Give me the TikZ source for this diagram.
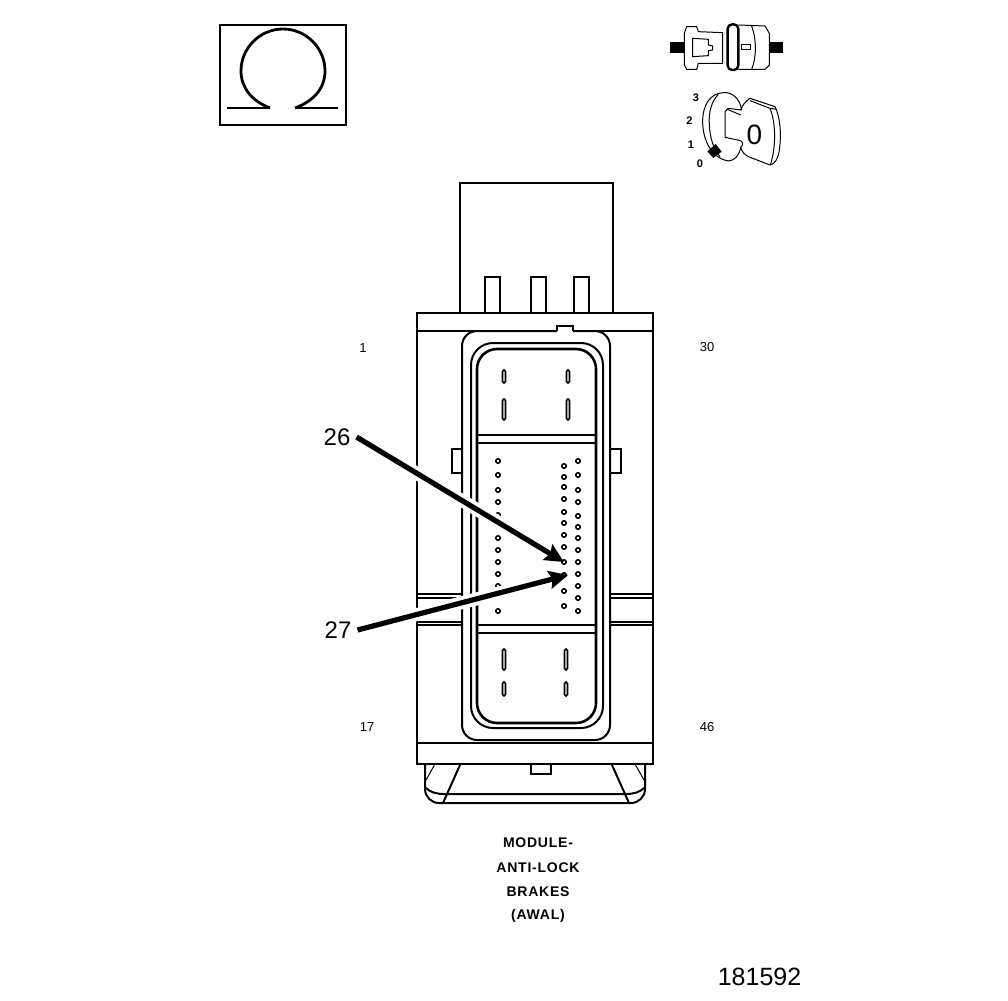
\documentclass[tikz,border=0pt]{standalone}
\usepackage{fontspec}
\setmainfont{Liberation Sans}
\usetikzlibrary{calc,arrows.meta}
\tikzset{
  heavy/.style={line width=2.6pt},
  medium/.style={line width=2pt},
  thin line/.style={line width=1pt},
  slot/.style={draw, line width=1.6pt, rounded corners=1.5pt},
  pin/.style={draw, circle, line width=1.5pt, inner sep=0pt, minimum size=4.5pt},
  pinlabel/.style={font=\fontsize{13}{13}\selectfont},
  callout/.style={font=\fontsize{24}{24}\selectfont, inner sep=6pt},
  leader/.style={line width=5.2pt, -{Stealth[length=19pt,width=18pt,inset=3pt]}},
  casing/.style={white, line width=13pt, shorten >=14pt},
  caption/.style={font=\bfseries\fontsize{14}{14}\selectfont\addfontfeature{LetterSpace=5.5}},
  keydigit/.style={font=\bfseries\fontsize{11}{11}\selectfont, inner sep=0pt}
}
\begin{document}
\begin{tikzpicture}[x=1pt,y=-1pt]
\useasboundingbox (0,0) rectangle (1008,1000);
%% omega symbol
\draw[medium] (220,25) rectangle (345.5,125.5);
\draw[line width=2.8pt] (270,108) .. controls (252,101) and (241,88) .. (241,71)
  .. controls (241,48) and (260,29) .. (283,29)
  .. controls (306,29) and (325,48) .. (325,71)
  .. controls (325,88) and (314,101) .. (295,108);
\draw[medium] (227,108) -- (270,108);
\draw[medium] (295,108) -- (338,108);
%% connector and key icons
\begin{scope}[shift={(650,10)},scale=1/3]
% connector halves
\fill (60,97) rectangle (103,128);
\fill (358,97) rectangle (398,128);
\draw[thin line] (103,70) -- (110,50) -- (140,50) -- (145,65) -- (218,68)
  -- (218,160) -- (145,160) -- (140,178) -- (110,178) -- (103,165) -- cycle;
\draw[thin line] (128,85) -- (175,88) -- (175,105) -- (188,108) -- (188,120)
  -- (175,122) -- (175,137) -- (128,140) -- cycle;
\draw[line width=2.4pt, rounded corners=4.5pt] (233,43) rectangle (265,180);
\draw[thin line] (265,45) -- (345,48) -- (358,70) -- (358,165) -- (345,178) -- (265,178);
\draw[thin line] (305,48) .. controls (320,90) and (320,140) .. (305,178);
\draw[thin line] (275,105) rectangle (300,118);
% key barrel
\draw[thin line] (275,300) .. controls (270,265) and (245,245) .. (220,248)
  .. controls (180,250) and (158,285) .. (158,335)
  .. controls (158,390) and (185,445) .. (235,453)
  .. controls (255,452) and (268,435) .. (272,412);
\draw[thin line] (205,253) .. controls (185,275) and (175,305) .. (178,345)
  .. controls (180,385) and (190,415) .. (210,440);
\draw[thin line] (275,300) -- (235,295) -- (225,305) -- (225,382) -- (272,392);
\draw[thin line] (230,297) -- (272,315);
% key head
\draw[thin line] (272,300) .. controls (278,285) and (285,275) .. (300,265)
  -- (375,290) .. controls (390,320) and (395,370) .. (388,420)
  .. controls (385,445) and (375,462) .. (360,465)
  -- (295,440) .. controls (282,432) and (275,425) .. (272,412);
\draw[thin line] (300,272) -- (360,295) -- (380,298);
\draw[thin line] (360,295) .. controls (378,340) and (378,410) .. (362,462);
\draw[thin line] (272,392) .. controls (280,398) and (280,405) .. (272,412);
\fill (172,424) -- (197,402) -- (215,425) -- (190,444) -- cycle;
\node[font=\fontsize{28}{28}\selectfont, inner sep=0pt] (keyzero) at (313,375) {0};
\node[keydigit] (pos3) at (138,262) {3};
\node[keydigit] (pos2) at (118,332) {2};
\node[keydigit] (pos1) at (123,405) {1};
\node[keydigit] (pos0) at (150,460) {0};
\end{scope}
%% module body
\draw[medium] (460,313) -- (460,183) -- (613,183) -- (613,313);
\foreach\x in {485,531,574}
  {
  \draw[medium] (\x,313) -- (\x,277) -- (\x+14.5,277) -- (\x+14.5,313);
  }
\draw[heavy] (417,313) rectangle (653,764);
\draw[medium] (417,331) -- (557,331);
\draw[medium] (573,331) -- (653,331);
\draw[heavy] (417,743) -- (653,743);
% side bands
\foreach\y in {594,598,622,625}
  {
  \draw[medium] (417,\y) -- (462,\y);
  \draw[medium] (610,\y) -- (653,\y);
  }
% side tabs
\draw[medium] (461,449) -- (452,449) -- (452,473) -- (461,473);
\draw[medium] (611,449) -- (621,449) -- (621,473) -- (611,473);
%% connector shroud
\draw[medium, rounded corners=15pt] (557,331) -- (462,331) -- (462,740) -- (610,740) -- (610,331) -- (573,331);
\draw[medium] (557,331) -- (557,326) -- (573,326) -- (573,331);
\draw[medium, rounded corners=22pt] (471,343) rectangle (603,728);
\draw[heavy, rounded corners=20pt] (477,349) rectangle (596,723);
\draw[heavy] (477,435) -- (596,435);
\draw[medium] (477,443) -- (596,443);
\draw[heavy] (477,625) -- (596,625);
\draw[medium] (477,633) -- (596,633);
% blade slots
\foreach\x/\ya/\yb in {504/370/383,568/370/383,504/399/420,568/399/420,
                       504/649/670,566/649/670,504/682/696,566/682/696}
  {
  \draw[slot] (\x-1.5,\ya) rectangle (\x+1.5,\yb);
  }
% pin rows
\foreach\y in {461,475,490,502,515,538,550,562,574,586,611}
  \node[pin] (a\y) at (498,\y) {};
\foreach\y in {466,477,487,499,512,523,535,547,562,575,591,606}
  \node[pin] (b\y) at (564,\y) {};
\foreach\y in {461,475,490,502,516,527,538,550,562,574,586,598,611}
  \node[pin] (c\y) at (578,\y) {};
%% lower housing
\draw[medium, rounded corners=14pt] (425,764) -- (425,803) -- (645,803) -- (645,764);
\draw[thin line] (435,764) -- (426,780);
\draw[thin line] (635,764) -- (644,780);
\draw[medium] (460,765) -- (443,803);
\draw[medium] (612,765) -- (629,803);
\draw[medium] (426,788) .. controls (430,792) and (436,794) .. (444,794) -- (626,794)
  .. controls (634,794) and (640,792) .. (644,788);
\draw[heavy] (531,764) -- (531,774) -- (551,774) -- (551,764);
%% pin numbers
\node[pinlabel] (pinA) at (363,348) {1};
\node[pinlabel] (pinB) at (707,347) {30};
\node[pinlabel] (pinC) at (367,727) {17};
\node[pinlabel] (pinD) at (707,727) {46};
%% callouts
\node[callout] (lab26) at (337,437) {26};
\node[callout] (lab27) at (338,630) {27};
\coordinate (tip26) at (564,562);
\coordinate (tip27) at (568,575);
\draw[casing] (lab26.east) -- (tip26);
\draw[casing] (lab27.east) -- (tip27);
\draw[leader] (lab26.east) -- (tip26);
\draw[leader] (lab27.east) -- (tip27);
%% caption
\node[caption] (capA) at (538,843) {MODULE-};
\node[caption] (capB) at (538,868) {ANTI-LOCK};
\node[caption] (capC) at (538,892) {BRAKES};
\node[caption] (capD) at (538,916) {(AWAL)};
\node[font=\fontsize{25}{25}\selectfont] (figno) at (759.5,977) {181592};
\end{tikzpicture}
\end{document}
